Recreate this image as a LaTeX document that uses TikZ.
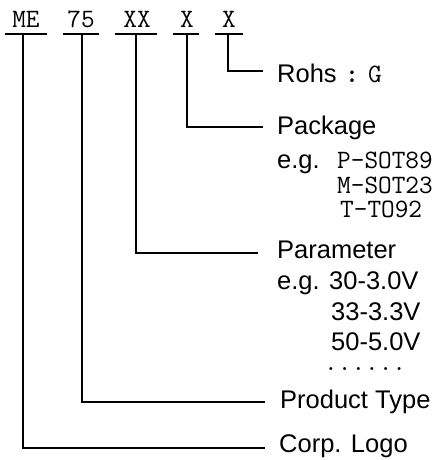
\documentclass[tikz,border=0pt]{standalone}
\usepackage{fontspec}
\setmainfont{Liberation Sans}
\begin{document}
\begin{tikzpicture}[x=1pt,y=-1pt,
  lbl/.style={anchor=base west, inner sep=0pt, font=\fontsize{25.5}{30}\selectfont},
  code/.style={anchor=base, inner sep=0pt, font=\fontsize{26.5}{30}\selectfont\ttfamily},
  mono/.style={anchor=base west, inner sep=0pt, font=\fontsize{26.5}{30}\selectfont\ttfamily},
  ln/.style={line width=1.6pt}]
\useasboundingbox[fill=white] (0,0) rectangle (438,460);
% header codes
\node[code] (me) at (26,28) {ME};
\node[code] (pt) at (81,28) {75};
\node[code] (xx) at (137,28) {XX};
\node[code] (xa) at (187,28) {X};
\node[code] (xb) at (229,28) {X};
% underlines
\coordinate (meL) at (5,34);   \coordinate (meR) at (47,34);
\coordinate (ptL) at (63,34);  \coordinate (ptR) at (99,34);
\coordinate (xxL) at (115,34); \coordinate (xxR) at (157,34);
\coordinate (xaL) at (173,34); \coordinate (xaR) at (199,34);
\coordinate (xbL) at (215,34); \coordinate (xbR) at (243,34);
\draw[ln] (meL) -- (meR);
\draw[ln] (ptL) -- (ptR);
\draw[ln] (xxL) -- (xxR);
\draw[ln] (xaL) -- (xaR);
\draw[ln] (xbL) -- (xbR);
% stems
\coordinate (meT) at (23,34);
\coordinate (ptT) at (82,34);
\coordinate (xxT) at (136,34);
\coordinate (xaT) at (187,34);
\coordinate (xbT) at (228,34);
% labels
\node[lbl] (rohs) at (277,82) {Rohs};
\node[code,font=\fontsize{26.5}{30}\selectfont\ttfamily\bfseries] (colon) at (352,82) {:};
\node[code] (g) at (375,82) {G};
\node[lbl] (pkg) at (277,134) {Package};
\node[lbl] (eg1) at (277,168) {e.g.};
\node[mono] (p1) at (337,168) {P-SOT89};
\node[mono] (p2) at (337,193) {M-SOT23};
\node[mono] (p3) at (340,217) {T-TO92};
\node[lbl] (par) at (277,258) {Parameter};
\node[lbl] (eg2) at (277,289) {e.g. 30-3.0V};
\node[lbl] (v2) at (331,320) {33-3.3V};
\node[lbl] (v3) at (331,350) {50-5.0V};
\node[mono] (dots) at (324,370) {......};
\node[lbl] (prod) at (280,408) {Product Type};
\node[lbl] (logo) at (279,452) {Corp. Logo};
% connector ends
\coordinate (rohsE) at (263,71);
\coordinate (pkgE) at (263,127);
\coordinate (parE) at (258,253);
\coordinate (prodE) at (265,402);
\coordinate (logoE) at (265,448);
\draw[ln] (xbT) |- (rohsE);
\draw[ln] (xaT) |- (pkgE);
\draw[ln] (xxT) |- (parE);
\draw[ln] (ptT) |- (prodE);
\draw[ln] (meT) |- (logoE);
\end{tikzpicture}
\end{document}
